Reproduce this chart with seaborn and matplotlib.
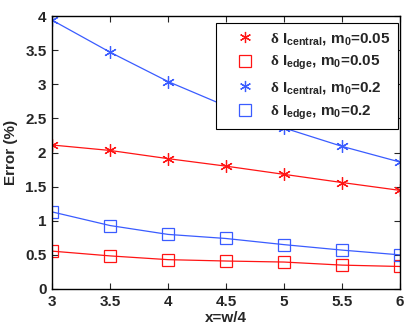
import numpy as np
import pandas as pd
import matplotlib
matplotlib.use("Agg")
import matplotlib.pyplot as plt
from matplotlib.lines import Line2D
import seaborn as sns

x_vals = [3, 3.5, 4, 4.5, 5, 5.5, 6]
central_005 = [2.11, 2.03, 1.91, 1.80, 1.68, 1.56, 1.445]
edge_005 = [0.555, 0.485, 0.43, 0.41, 0.395, 0.35, 0.33]
central_02 = [3.94, 3.47, 3.04, 2.68, 2.36, 2.09, 1.86]
edge_02 = [1.13, 0.93, 0.80, 0.74, 0.65, 0.57, 0.50]
series_labels = [
    r'$\mathrm{\delta}$ I$_{\mathbf{central}}$, m$_{\mathbf{0}}$=0.05',
    r'$\mathrm{\delta}$ I$_{\mathbf{edge}}$, m$_{\mathbf{0}}$=0.05',
    r'$\mathrm{\delta}$ I$_{\mathbf{central}}$, m$_{\mathbf{0}}$=0.2',
    r'$\mathrm{\delta}$ I$_{\mathbf{edge}}$, m$_{\mathbf{0}}$=0.2',
]
x_ticks = [3, 3.5, 4, 4.5, 5, 5.5, 6]
y_ticks = [0, 0.5, 1, 1.5, 2, 2.5, 3, 3.5, 4]

sns.set_theme(style="ticks")
plt.rcParams['font.family'] = ['Liberation Sans', 'DejaVu Sans']
plt.rcParams['font.weight'] = 'bold'
plt.rcParams['mathtext.fontset'] = 'custom'
plt.rcParams['mathtext.rm'] = 'Liberation Serif'
plt.rcParams['mathtext.bf'] = 'Liberation Sans:bold'
plt.rcParams['mathtext.it'] = 'Liberation Serif:italic'

red = '#ff1414'
blue = '#3a5cff'
colors = [red, red, blue, blue]
star = (6, 2, 0)
markers = [star, 's', star, 's']

rows = []
for lab, vals in zip(series_labels, [central_005, edge_005, central_02, edge_02]):
    for xv, yv in zip(x_vals, vals):
        rows.append({'x': xv, 'y': yv, 'series': lab})
df = pd.DataFrame(rows)

fig = plt.figure(figsize=(4.15, 3.28), dpi=100)
ax = fig.add_axes([52/415, 1 - 289/328, 348/415, 273/328])

for lab, c, m in zip(series_labels, colors, markers):
    sub = df[df['series'] == lab]
    mfc = c if m == star else 'none'
    sns.lineplot(data=sub, x='x', y='y', ax=ax, color=c, linewidth=0.9,
                 marker=m, markersize=9, markerfacecolor=mfc,
                 markeredgecolor=c, markeredgewidth=0.9, legend=False)

ax.set_xlim(3, 6)
ax.set_ylim(0, 4)
ax.set_xticks(x_ticks)
ax.set_xticklabels([f'{t:g}' for t in x_ticks])
ax.set_yticks(y_ticks)
ax.set_yticklabels([f'{t:g}' for t in y_ticks])
ax.tick_params(direction='in', top=True, right=True, labelsize=11, length=4, width=0.8, pad=4)
for lbl in ax.get_xticklabels() + ax.get_yticklabels():
    lbl.set_fontweight('bold')
for s in ax.spines.values():
    s.set_linewidth(1.0)
    s.set_color('black')
ax.set_xlabel('x=w/4', fontsize=11, fontweight='bold', labelpad=2)
ax.set_ylabel('Error (%)', fontsize=11, fontweight='bold', labelpad=5)

handles = []
for lab, c, m in zip(series_labels, colors, markers):
    mfc = c if m == star else 'none'
    handles.append(Line2D([], [], linestyle='none', marker=m, markersize=8,
                          markerfacecolor=mfc, markeredgecolor=c, markeredgewidth=0.9))
leg = ax.legend(handles, series_labels, loc='upper right',
                bbox_to_anchor=((398 - 52) / 348, (289 - 23) / 273),
                borderaxespad=0,
                frameon=True, fancybox=False, edgecolor='black', framealpha=1,
                prop={'size': 11, 'weight': 'bold'}, handletextpad=0.25,
                borderpad=0.5, labelspacing=0.5, handlelength=2.8)
leg.get_frame().set_linewidth(0.8)

fig.savefig('out.png', dpi=100)
